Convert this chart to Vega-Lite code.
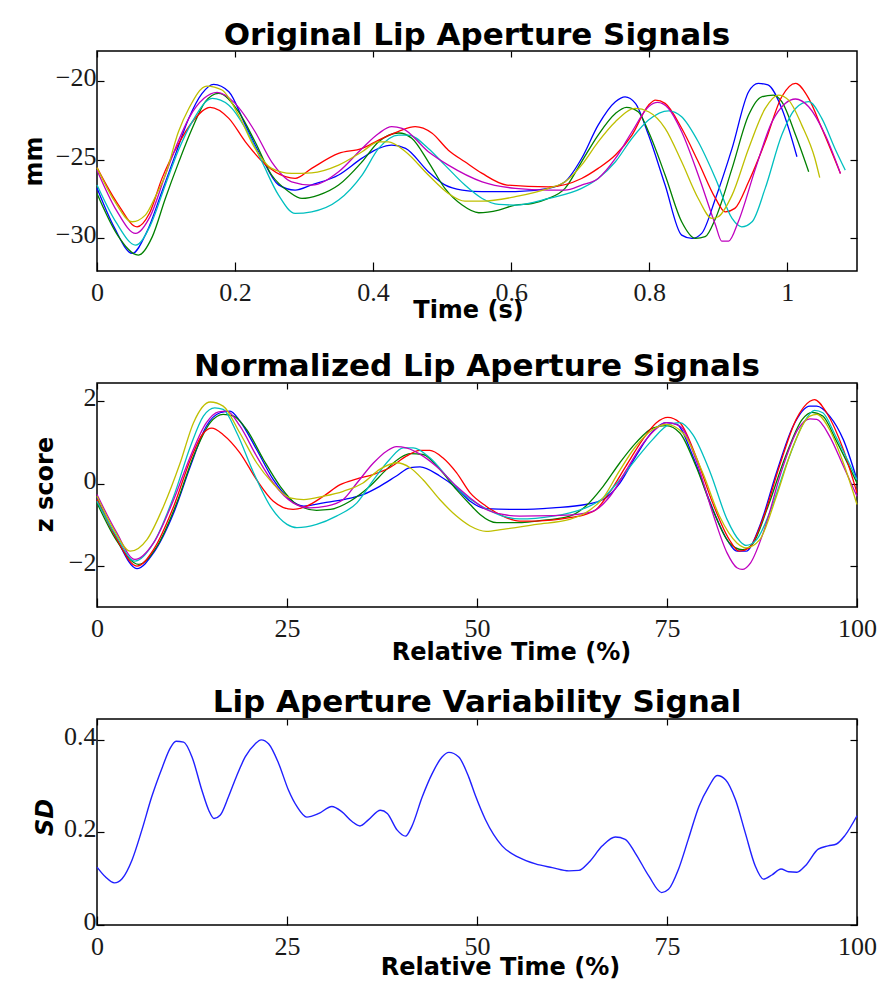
{
  "$schema": "https://vega.github.io/schema/vega-lite/v6.json",
  "padding": {"left": 21, "top": 19, "right": 0, "bottom": 0},
  "background": "white",
  "spacing": 112,
  "bounds": "flush",
  "datasets": {
    "orig": [
      {"s":"b","t":0,"v":-26.8},{"s":"b","t":0.025,"v":-29.3},{"s":"b","t":0.051,"v":-30.95},{"s":"b","t":0.072,"v":-29.6},{"s":"b","t":0.094,"v":-27.03},{"s":"b","t":0.115,"v":-24.5},{"s":"b","t":0.133,"v":-22.37},{"s":"b","t":0.152,"v":-20.8},{"s":"b","t":0.169,"v":-20.21},{"s":"b","t":0.191,"v":-20.68},{"s":"b","t":0.215,"v":-22.8},{"s":"b","t":0.239,"v":-24.9},{"s":"b","t":0.263,"v":-26.6},{"s":"b","t":0.287,"v":-26.93},{"s":"b","t":0.311,"v":-26.6},{"s":"b","t":0.35,"v":-25.97},{"s":"b","t":0.384,"v":-24.9},{"s":"b","t":0.408,"v":-24.28},{"s":"b","t":0.427,"v":-24.07},{"s":"b","t":0.447,"v":-24.28},{"s":"b","t":0.48,"v":-25.76},{"s":"b","t":0.504,"v":-26.6},{"s":"b","t":0.529,"v":-26.93},{"s":"b","t":0.558,"v":-27.03},{"s":"b","t":0.606,"v":-27.03},{"s":"b","t":0.654,"v":-26.82},{"s":"b","t":0.678,"v":-26.4},{"s":"b","t":0.702,"v":-24.92},{"s":"b","t":0.726,"v":-22.8},{"s":"b","t":0.751,"v":-21.31},{"s":"b","t":0.765,"v":-21.0},{"s":"b","t":0.78,"v":-21.42},{"s":"b","t":0.799,"v":-23.43},{"s":"b","t":0.823,"v":-26.61},{"s":"b","t":0.847,"v":-29.79},{"s":"b","t":0.862,"v":-30.0},{"s":"b","t":0.876,"v":-29.68},{"s":"b","t":0.896,"v":-27.46},{"s":"b","t":0.92,"v":-24.28},{"s":"b","t":0.944,"v":-20.68},{"s":"b","t":0.958,"v":-20.15},{"s":"b","t":0.972,"v":-20.25},{"s":"b","t":0.992,"v":-21.74},{"s":"b","t":1.014,"v":-24.81},
      {"s":"g","t":0,"v":-27.14},{"s":"g","t":0.03,"v":-29.8},{"s":"g","t":0.06,"v":-31.06},{"s":"g","t":0.08,"v":-29.9},{"s":"g","t":0.099,"v":-27.46},{"s":"g","t":0.118,"v":-25.2},{"s":"g","t":0.138,"v":-23.0},{"s":"g","t":0.157,"v":-21.31},{"s":"g","t":0.176,"v":-20.78},{"s":"g","t":0.205,"v":-21.95},{"s":"g","t":0.229,"v":-23.86},{"s":"g","t":0.253,"v":-25.97},{"s":"g","t":0.278,"v":-27.03},{"s":"g","t":0.297,"v":-27.46},{"s":"g","t":0.321,"v":-27.25},{"s":"g","t":0.35,"v":-26.61},{"s":"g","t":0.384,"v":-25.13},{"s":"g","t":0.408,"v":-23.86},{"s":"g","t":0.437,"v":-23.3},{"s":"g","t":0.456,"v":-23.64},{"s":"g","t":0.48,"v":-25.13},{"s":"g","t":0.504,"v":-26.82},{"s":"g","t":0.529,"v":-27.88},{"s":"g","t":0.553,"v":-28.37},{"s":"g","t":0.582,"v":-28.2},{"s":"g","t":0.606,"v":-27.88},{"s":"g","t":0.63,"v":-27.78},{"s":"g","t":0.654,"v":-27.46},{"s":"g","t":0.678,"v":-26.82},{"s":"g","t":0.702,"v":-25.13},{"s":"g","t":0.726,"v":-23.43},{"s":"g","t":0.751,"v":-22.06},{"s":"g","t":0.767,"v":-21.67},{"s":"g","t":0.784,"v":-21.95},{"s":"g","t":0.799,"v":-23.22},{"s":"g","t":0.823,"v":-25.97},{"s":"g","t":0.847,"v":-28.94},{"s":"g","t":0.867,"v":-30.0},{"s":"g","t":0.881,"v":-29.89},{"s":"g","t":0.896,"v":-28.73},{"s":"g","t":0.92,"v":-25.55},{"s":"g","t":0.944,"v":-22.16},{"s":"g","t":0.963,"v":-21.0},{"s":"g","t":0.98,"v":-20.89},{"s":"g","t":0.992,"v":-21.31},{"s":"g","t":1.012,"v":-23.43},{"s":"g","t":1.031,"v":-25.76},
      {"s":"r","t":0,"v":-25.5},{"s":"r","t":0.03,"v":-27.8},{"s":"r","t":0.058,"v":-29.26},{"s":"r","t":0.076,"v":-28.4},{"s":"r","t":0.094,"v":-26.2},{"s":"r","t":0.118,"v":-24.0},{"s":"r","t":0.138,"v":-22.6},{"s":"r","t":0.164,"v":-21.67},{"s":"r","t":0.191,"v":-22.37},{"s":"r","t":0.215,"v":-23.86},{"s":"r","t":0.244,"v":-25.3},{"s":"r","t":0.273,"v":-26.08},{"s":"r","t":0.287,"v":-26.19},{"s":"r","t":0.311,"v":-25.55},{"s":"r","t":0.35,"v":-24.6},{"s":"r","t":0.384,"v":-24.28},{"s":"r","t":0.408,"v":-23.75},{"s":"r","t":0.437,"v":-23.2},{"s":"r","t":0.461,"v":-22.9},{"s":"r","t":0.485,"v":-23.3},{"s":"r","t":0.509,"v":-24.39},{"s":"r","t":0.533,"v":-25.13},{"s":"r","t":0.558,"v":-25.87},{"s":"r","t":0.594,"v":-26.61},{"s":"r","t":0.654,"v":-26.72},{"s":"r","t":0.702,"v":-26.19},{"s":"r","t":0.726,"v":-25.55},{"s":"r","t":0.751,"v":-24.7},{"s":"r","t":0.775,"v":-23.43},{"s":"r","t":0.799,"v":-21.53},{"s":"r","t":0.809,"v":-21.21},{"s":"r","t":0.823,"v":-21.42},{"s":"r","t":0.847,"v":-23.0},{"s":"r","t":0.871,"v":-25.13},{"s":"r","t":0.896,"v":-27.46},{"s":"r","t":0.91,"v":-28.31},{"s":"r","t":0.924,"v":-28.09},{"s":"r","t":0.944,"v":-26.4},{"s":"r","t":0.968,"v":-23.86},{"s":"r","t":0.992,"v":-21.0},{"s":"r","t":1.012,"v":-20.15},{"s":"r","t":1.031,"v":-21.1},{"s":"r","t":1.05,"v":-23.0},{"s":"r","t":1.077,"v":-25.87},
      {"s":"c","t":0,"v":-26.6},{"s":"c","t":0.028,"v":-29.0},{"s":"c","t":0.056,"v":-30.42},{"s":"c","t":0.077,"v":-29.2},{"s":"c","t":0.099,"v":-26.6},{"s":"c","t":0.118,"v":-24.4},{"s":"c","t":0.138,"v":-22.58},{"s":"c","t":0.167,"v":-21.1},{"s":"c","t":0.191,"v":-21.53},{"s":"c","t":0.215,"v":-23.0},{"s":"c","t":0.239,"v":-25.13},{"s":"c","t":0.263,"v":-27.25},{"s":"c","t":0.287,"v":-28.41},{"s":"c","t":0.311,"v":-28.31},{"s":"c","t":0.35,"v":-27.56},{"s":"c","t":0.384,"v":-25.97},{"s":"c","t":0.408,"v":-24.28},{"s":"c","t":0.437,"v":-23.43},{"s":"c","t":0.451,"v":-23.43},{"s":"c","t":0.48,"v":-24.28},{"s":"c","t":0.504,"v":-25.34},{"s":"c","t":0.533,"v":-26.61},{"s":"c","t":0.558,"v":-27.46},{"s":"c","t":0.582,"v":-27.84},{"s":"c","t":0.606,"v":-27.88},{"s":"c","t":0.654,"v":-27.46},{"s":"c","t":0.702,"v":-26.82},{"s":"c","t":0.726,"v":-26.19},{"s":"c","t":0.751,"v":-25.13},{"s":"c","t":0.775,"v":-23.64},{"s":"c","t":0.799,"v":-22.48},{"s":"c","t":0.828,"v":-21.89},{"s":"c","t":0.847,"v":-22.27},{"s":"c","t":0.871,"v":-23.86},{"s":"c","t":0.896,"v":-26.19},{"s":"c","t":0.92,"v":-28.73},{"s":"c","t":0.934,"v":-29.26},{"s":"c","t":0.949,"v":-28.94},{"s":"c","t":0.968,"v":-26.82},{"s":"c","t":0.992,"v":-23.43},{"s":"c","t":1.012,"v":-21.74},{"s":"c","t":1.031,"v":-21.31},{"s":"c","t":1.05,"v":-22.37},{"s":"c","t":1.069,"v":-24.28},{"s":"c","t":1.084,"v":-25.66},
      {"s":"m","t":0,"v":-25.66},{"s":"m","t":0.028,"v":-28.2},{"s":"m","t":0.056,"v":-29.68},{"s":"m","t":0.077,"v":-28.6},{"s":"m","t":0.099,"v":-25.97},{"s":"m","t":0.118,"v":-23.8},{"s":"m","t":0.133,"v":-22.37},{"s":"m","t":0.155,"v":-21.1},{"s":"m","t":0.174,"v":-20.72},{"s":"m","t":0.2,"v":-21.42},{"s":"m","t":0.229,"v":-23.22},{"s":"m","t":0.253,"v":-25.13},{"s":"m","t":0.282,"v":-26.4},{"s":"m","t":0.311,"v":-26.61},{"s":"m","t":0.35,"v":-25.76},{"s":"m","t":0.384,"v":-24.28},{"s":"m","t":0.408,"v":-23.33},{"s":"m","t":0.427,"v":-22.9},{"s":"m","t":0.442,"v":-23.0},{"s":"m","t":0.48,"v":-24.49},{"s":"m","t":0.509,"v":-25.34},{"s":"m","t":0.558,"v":-26.4},{"s":"m","t":0.606,"v":-26.82},{"s":"m","t":0.654,"v":-26.93},{"s":"m","t":0.678,"v":-26.93},{"s":"m","t":0.702,"v":-26.61},{"s":"m","t":0.726,"v":-26.19},{"s":"m","t":0.751,"v":-24.92},{"s":"m","t":0.775,"v":-23.22},{"s":"m","t":0.799,"v":-21.63},{"s":"m","t":0.812,"v":-21.36},{"s":"m","t":0.828,"v":-21.74},{"s":"m","t":0.847,"v":-23.22},{"s":"m","t":0.871,"v":-25.97},{"s":"m","t":0.896,"v":-29.15},{"s":"m","t":0.905,"v":-30.17},{"s":"m","t":0.915,"v":-30.17},{"s":"m","t":0.929,"v":-28.94},{"s":"m","t":0.954,"v":-25.55},{"s":"m","t":0.978,"v":-22.58},{"s":"m","t":0.997,"v":-21.42},{"s":"m","t":1.012,"v":-21.14},{"s":"m","t":1.031,"v":-21.63},{"s":"m","t":1.055,"v":-23.43},{"s":"m","t":1.077,"v":-25.87},
      {"s":"y","t":0,"v":-25.5},{"s":"y","t":0.025,"v":-27.6},{"s":"y","t":0.051,"v":-28.94},{"s":"y","t":0.07,"v":-28.52},{"s":"y","t":0.085,"v":-27.3},{"s":"y","t":0.099,"v":-25.97},{"s":"y","t":0.118,"v":-23.22},{"s":"y","t":0.133,"v":-21.74},{"s":"y","t":0.159,"v":-20.32},{"s":"y","t":0.181,"v":-20.57},{"s":"y","t":0.205,"v":-22.16},{"s":"y","t":0.229,"v":-24.28},{"s":"y","t":0.253,"v":-25.55},{"s":"y","t":0.282,"v":-25.87},{"s":"y","t":0.311,"v":-25.83},{"s":"y","t":0.35,"v":-25.34},{"s":"y","t":0.384,"v":-24.49},{"s":"y","t":0.408,"v":-23.86},{"s":"y","t":0.422,"v":-23.86},{"s":"y","t":0.447,"v":-24.49},{"s":"y","t":0.48,"v":-25.97},{"s":"y","t":0.509,"v":-27.14},{"s":"y","t":0.533,"v":-27.63},{"s":"y","t":0.558,"v":-27.63},{"s":"y","t":0.606,"v":-27.35},{"s":"y","t":0.654,"v":-26.82},{"s":"y","t":0.678,"v":-26.4},{"s":"y","t":0.702,"v":-25.34},{"s":"y","t":0.726,"v":-23.86},{"s":"y","t":0.751,"v":-22.58},{"s":"y","t":0.78,"v":-21.74},{"s":"y","t":0.799,"v":-21.95},{"s":"y","t":0.823,"v":-23.0},{"s":"y","t":0.847,"v":-25.13},{"s":"y","t":0.871,"v":-27.46},{"s":"y","t":0.891,"v":-28.73},{"s":"y","t":0.9,"v":-28.62},{"s":"y","t":0.92,"v":-27.25},{"s":"y","t":0.944,"v":-24.28},{"s":"y","t":0.968,"v":-21.74},{"s":"y","t":0.987,"v":-20.89},{"s":"y","t":1.002,"v":-21.21},{"s":"y","t":1.021,"v":-22.8},{"s":"y","t":1.04,"v":-24.92},{"s":"y","t":1.047,"v":-26.14}
    ],
    "norm": [
      {"s":"b","t":0,"v":-0.34},{"s":"b","t":2.5,"v":-1.3},{"s":"b","t":5.25,"v":-2.05},{"s":"b","t":7.44,"v":-1.67},{"s":"b","t":10.1,"v":-0.7},{"s":"b","t":12.3,"v":0.43},{"s":"b","t":14.4,"v":1.4},{"s":"b","t":16.2,"v":1.72},{"s":"b","t":17.5,"v":1.76},{"s":"b","t":18.8,"v":1.52},{"s":"b","t":21.0,"v":0.83},{"s":"b","t":23.2,"v":0.1},{"s":"b","t":25.4,"v":-0.38},{"s":"b","t":27.2,"v":-0.54},{"s":"b","t":29.8,"v":-0.46},{"s":"b","t":32.4,"v":-0.38},{"s":"b","t":35.0,"v":-0.26},{"s":"b","t":37.2,"v":-0.06},{"s":"b","t":39.4,"v":0.19},{"s":"b","t":41.2,"v":0.39},{"s":"b","t":42.5,"v":0.41},{"s":"b","t":45.1,"v":0.19},{"s":"b","t":47.3,"v":-0.1},{"s":"b","t":49.1,"v":-0.42},{"s":"b","t":51.2,"v":-0.6},{"s":"b","t":55.6,"v":-0.62},{"s":"b","t":60.0,"v":-0.58},{"s":"b","t":64.3,"v":-0.5},{"s":"b","t":66.6,"v":-0.38},{"s":"b","t":68.8,"v":0.02},{"s":"b","t":70.9,"v":0.67},{"s":"b","t":73.1,"v":1.27},{"s":"b","t":74.9,"v":1.48},{"s":"b","t":76.3,"v":1.44},{"s":"b","t":78.4,"v":0.67},{"s":"b","t":80.7,"v":-0.46},{"s":"b","t":82.9,"v":-1.35},{"s":"b","t":84.2,"v":-1.63},{"s":"b","t":85.4,"v":-1.63},{"s":"b","t":87.2,"v":-1.02},{"s":"b","t":89.4,"v":0.27},{"s":"b","t":91.6,"v":1.4},{"s":"b","t":93.8,"v":1.88},{"s":"b","t":94.7,"v":1.88},{"s":"b","t":96.4,"v":1.64},{"s":"b","t":98.2,"v":1.07},{"s":"b","t":100,"v":0.1},
      {"s":"g","t":0,"v":-0.46},{"s":"g","t":2.5,"v":-1.35},{"s":"g","t":5.5,"v":-1.95},{"s":"g","t":7.9,"v":-1.51},{"s":"g","t":10.5,"v":-0.46},{"s":"g","t":12.7,"v":0.67},{"s":"g","t":14.9,"v":1.48},{"s":"g","t":16.6,"v":1.68},{"s":"g","t":18.0,"v":1.64},{"s":"g","t":19.7,"v":1.31},{"s":"g","t":21.9,"v":0.59},{"s":"g","t":24.1,"v":-0.06},{"s":"g","t":26.3,"v":-0.5},{"s":"g","t":28.9,"v":-0.64},{"s":"g","t":30.7,"v":-0.62},{"s":"g","t":33.3,"v":-0.42},{"s":"g","t":35.9,"v":-0.06},{"s":"g","t":38.1,"v":0.35},{"s":"g","t":39.9,"v":0.63},{"s":"g","t":41.2,"v":0.73},{"s":"g","t":42.9,"v":0.71},{"s":"g","t":45.1,"v":0.35},{"s":"g","t":47.3,"v":-0.14},{"s":"g","t":49.1,"v":-0.5},{"s":"g","t":50.4,"v":-0.74},{"s":"g","t":52.6,"v":-0.94},{"s":"g","t":55.6,"v":-0.94},{"s":"g","t":57.8,"v":-0.9},{"s":"g","t":62.2,"v":-0.78},{"s":"g","t":64.3,"v":-0.54},{"s":"g","t":66.6,"v":-0.06},{"s":"g","t":68.8,"v":0.51},{"s":"g","t":70.9,"v":0.99},{"s":"g","t":73.1,"v":1.35},{"s":"g","t":74.9,"v":1.41},{"s":"g","t":76.7,"v":1.23},{"s":"g","t":78.8,"v":0.43},{"s":"g","t":81.0,"v":-0.62},{"s":"g","t":83.2,"v":-1.43},{"s":"g","t":84.9,"v":-1.59},{"s":"g","t":86.2,"v":-1.47},{"s":"g","t":88.3,"v":-0.54},{"s":"g","t":90.6,"v":0.67},{"s":"g","t":92.8,"v":1.56},{"s":"g","t":94.1,"v":1.73},{"s":"g","t":95.5,"v":1.64},{"s":"g","t":97.2,"v":1.07},{"s":"g","t":100,"v":0.02},
      {"s":"r","t":0,"v":-0.38},{"s":"r","t":2.5,"v":-1.3},{"s":"r","t":5.25,"v":-1.99},{"s":"r","t":7.44,"v":-1.59},{"s":"r","t":10.1,"v":-0.54},{"s":"r","t":12.3,"v":0.59},{"s":"r","t":14.0,"v":1.23},{"s":"r","t":15.1,"v":1.35},{"s":"r","t":16.6,"v":1.19},{"s":"r","t":18.8,"v":0.75},{"s":"r","t":21.0,"v":0.1},{"s":"r","t":23.2,"v":-0.42},{"s":"r","t":25.8,"v":-0.62},{"s":"r","t":27.6,"v":-0.54},{"s":"r","t":29.8,"v":-0.3},{"s":"r","t":32.0,"v":-0.02},{"s":"r","t":34.2,"v":0.12},{"s":"r","t":36.4,"v":0.23},{"s":"r","t":38.5,"v":0.39},{"s":"r","t":40.7,"v":0.67},{"s":"r","t":42.5,"v":0.81},{"s":"r","t":43.8,"v":0.81},{"s":"r","t":45.5,"v":0.63},{"s":"r","t":47.3,"v":0.27},{"s":"r","t":49.1,"v":-0.22},{"s":"r","t":51.2,"v":-0.54},{"s":"r","t":53.4,"v":-0.78},{"s":"r","t":55.6,"v":-0.9},{"s":"r","t":57.8,"v":-0.9},{"s":"r","t":62.2,"v":-0.82},{"s":"r","t":64.3,"v":-0.74},{"s":"r","t":65.7,"v":-0.62},{"s":"r","t":67.4,"v":-0.22},{"s":"r","t":69.6,"v":0.43},{"s":"r","t":71.8,"v":1.07},{"s":"r","t":73.6,"v":1.48},{"s":"r","t":75.1,"v":1.61},{"s":"r","t":76.7,"v":1.48},{"s":"r","t":78.8,"v":0.67},{"s":"r","t":81.0,"v":-0.46},{"s":"r","t":83.2,"v":-1.35},{"s":"r","t":84.5,"v":-1.63},{"s":"r","t":85.8,"v":-1.55},{"s":"r","t":87.6,"v":-0.86},{"s":"r","t":89.8,"v":0.43},{"s":"r","t":92.0,"v":1.56},{"s":"r","t":93.8,"v":2.0},{"s":"r","t":94.4,"v":2.04},{"s":"r","t":96.0,"v":1.72},{"s":"r","t":98.2,"v":0.83},{"s":"r","t":100,"v":-0.22},
      {"s":"c","t":0,"v":-0.42},{"s":"c","t":2.5,"v":-1.25},{"s":"c","t":5.0,"v":-1.87},{"s":"c","t":7.44,"v":-1.43},{"s":"c","t":10.1,"v":-0.3},{"s":"c","t":12.3,"v":0.91},{"s":"c","t":14.0,"v":1.64},{"s":"c","t":15.5,"v":1.84},{"s":"c","t":16.6,"v":1.8},{"s":"c","t":18.4,"v":1.23},{"s":"c","t":20.6,"v":0.27},{"s":"c","t":22.8,"v":-0.54},{"s":"c","t":25.0,"v":-0.98},{"s":"c","t":26.3,"v":-1.06},{"s":"c","t":28.9,"v":-0.98},{"s":"c","t":31.5,"v":-0.78},{"s":"c","t":34.2,"v":-0.46},{"s":"c","t":36.4,"v":0.1},{"s":"c","t":38.5,"v":0.59},{"s":"c","t":40.3,"v":0.87},{"s":"c","t":41.6,"v":0.87},{"s":"c","t":43.8,"v":0.63},{"s":"c","t":46.4,"v":0.1},{"s":"c","t":48.6,"v":-0.3},{"s":"c","t":50.4,"v":-0.52},{"s":"c","t":53.4,"v":-0.78},{"s":"c","t":55.6,"v":-0.85},{"s":"c","t":60.0,"v":-0.78},{"s":"c","t":62.2,"v":-0.7},{"s":"c","t":64.3,"v":-0.58},{"s":"c","t":66.6,"v":-0.34},{"s":"c","t":68.8,"v":0.1},{"s":"c","t":70.9,"v":0.59},{"s":"c","t":73.1,"v":1.07},{"s":"c","t":75.3,"v":1.44},{"s":"c","t":76.7,"v":1.48},{"s":"c","t":78.4,"v":1.19},{"s":"c","t":80.7,"v":0.27},{"s":"c","t":82.9,"v":-0.86},{"s":"c","t":84.6,"v":-1.39},{"s":"c","t":85.4,"v":-1.49},{"s":"c","t":86.8,"v":-1.35},{"s":"c","t":88.5,"v":-0.7},{"s":"c","t":90.8,"v":0.51},{"s":"c","t":93.0,"v":1.48},{"s":"c","t":94.4,"v":1.78},{"s":"c","t":95.5,"v":1.72},{"s":"c","t":97.2,"v":1.15},{"s":"c","t":100,"v":0.1},
      {"s":"m","t":0,"v":-0.26},{"s":"m","t":2.5,"v":-1.15},{"s":"m","t":5.0,"v":-1.83},{"s":"m","t":7.44,"v":-1.43},{"s":"m","t":10.1,"v":-0.38},{"s":"m","t":12.3,"v":0.67},{"s":"m","t":14.4,"v":1.48},{"s":"m","t":16.0,"v":1.74},{"s":"m","t":17.1,"v":1.76},{"s":"m","t":18.8,"v":1.4},{"s":"m","t":21.0,"v":0.67},{"s":"m","t":23.2,"v":0.02},{"s":"m","t":25.8,"v":-0.46},{"s":"m","t":28.0,"v":-0.58},{"s":"m","t":30.2,"v":-0.54},{"s":"m","t":32.4,"v":-0.38},{"s":"m","t":34.2,"v":0.02},{"s":"m","t":36.4,"v":0.51},{"s":"m","t":38.1,"v":0.79},{"s":"m","t":39.4,"v":0.9},{"s":"m","t":40.7,"v":0.87},{"s":"m","t":42.9,"v":0.67},{"s":"m","t":45.1,"v":0.35},{"s":"m","t":47.3,"v":-0.06},{"s":"m","t":49.1,"v":-0.34},{"s":"m","t":51.2,"v":-0.62},{"s":"m","t":53.4,"v":-0.74},{"s":"m","t":55.6,"v":-0.78},{"s":"m","t":60.0,"v":-0.77},{"s":"m","t":63.1,"v":-0.74},{"s":"m","t":65.3,"v":-0.66},{"s":"m","t":67.5,"v":-0.3},{"s":"m","t":69.7,"v":0.35},{"s":"m","t":71.9,"v":0.99},{"s":"m","t":73.7,"v":1.35},{"s":"m","t":74.9,"v":1.48},{"s":"m","t":76.7,"v":1.4},{"s":"m","t":78.8,"v":0.59},{"s":"m","t":81.0,"v":-0.7},{"s":"m","t":82.9,"v":-1.67},{"s":"m","t":84.2,"v":-2.03},{"s":"m","t":84.9,"v":-2.07},{"s":"m","t":86.0,"v":-1.91},{"s":"m","t":87.8,"v":-1.11},{"s":"m","t":90.0,"v":0.27},{"s":"m","t":92.2,"v":1.31},{"s":"m","t":93.8,"v":1.57},{"s":"m","t":94.7,"v":1.56},{"s":"m","t":96.4,"v":1.15},{"s":"m","t":98.2,"v":0.43},{"s":"m","t":100,"v":-0.3},
      {"s":"y","t":0,"v":-0.3},{"s":"y","t":2.2,"v":-1.1},{"s":"y","t":4.38,"v":-1.63},{"s":"y","t":6.57,"v":-1.35},{"s":"y","t":8.76,"v":-0.54},{"s":"y","t":10.95,"v":0.51},{"s":"y","t":12.7,"v":1.48},{"s":"y","t":14.9,"v":1.98},{"s":"y","t":16.6,"v":1.88},{"s":"y","t":18.8,"v":1.23},{"s":"y","t":21.0,"v":0.51},{"s":"y","t":23.1,"v":0.02},{"s":"y","t":25.4,"v":-0.34},{"s":"y","t":27.2,"v":-0.38},{"s":"y","t":29.8,"v":-0.3},{"s":"y","t":32.4,"v":-0.18},{"s":"y","t":35.0,"v":0.02},{"s":"y","t":37.2,"v":0.35},{"s":"y","t":39.4,"v":0.51},{"s":"y","t":41.2,"v":0.39},{"s":"y","t":42.9,"v":0.1},{"s":"y","t":45.1,"v":-0.38},{"s":"y","t":47.3,"v":-0.78},{"s":"y","t":49.1,"v":-1.02},{"s":"y","t":51.2,"v":-1.15},{"s":"y","t":53.4,"v":-1.1},{"s":"y","t":57.8,"v":-0.98},{"s":"y","t":62.2,"v":-0.86},{"s":"y","t":64.3,"v":-0.7},{"s":"y","t":66.6,"v":-0.34},{"s":"y","t":68.6,"v":0.27},{"s":"y","t":70.9,"v":0.91},{"s":"y","t":73.1,"v":1.31},{"s":"y","t":74.9,"v":1.44},{"s":"y","t":77.1,"v":1.23},{"s":"y","t":79.7,"v":0.27},{"s":"y","t":81.9,"v":-0.78},{"s":"y","t":84.2,"v":-1.43},{"s":"y","t":85.4,"v":-1.55},{"s":"y","t":87.2,"v":-1.35},{"s":"y","t":89.4,"v":-0.3},{"s":"y","t":91.6,"v":0.91},{"s":"y","t":93.8,"v":1.64},{"s":"y","t":94.7,"v":1.68},{"s":"y","t":96.4,"v":1.31},{"s":"y","t":98.2,"v":0.51},{"s":"y","t":100,"v":-0.5}
    ],
    "sd": [
      {"t":0,"v":0.125},{"t":1.1,"v":0.104},{"t":2.3,"v":0.091},{"t":3.3,"v":0.1},{"t":4.6,"v":0.14},{"t":5.9,"v":0.205},{"t":7.2,"v":0.277},{"t":8.6,"v":0.341},{"t":9.6,"v":0.381},{"t":10.4,"v":0.397},{"t":11.4,"v":0.395},{"t":12.5,"v":0.363},{"t":13.8,"v":0.291},{"t":14.7,"v":0.248},{"t":15.4,"v":0.23},{"t":16.2,"v":0.237},{"t":17.3,"v":0.277},{"t":18.4,"v":0.323},{"t":19.5,"v":0.363},{"t":20.8,"v":0.391},{"t":21.6,"v":0.4},{"t":22.6,"v":0.391},{"t":23.9,"v":0.349},{"t":25.2,"v":0.291},{"t":26.3,"v":0.256},{"t":27.6,"v":0.233},{"t":29.2,"v":0.241},{"t":30.9,"v":0.256},{"t":32.2,"v":0.245},{"t":33.6,"v":0.223},{"t":34.6,"v":0.214},{"t":35.7,"v":0.227},{"t":37.3,"v":0.248},{"t":38.2,"v":0.241},{"t":39.5,"v":0.205},{"t":40.6,"v":0.192},{"t":41.4,"v":0.212},{"t":42.8,"v":0.277},{"t":44.1,"v":0.327},{"t":45.4,"v":0.363},{"t":46.3,"v":0.373},{"t":47.6,"v":0.363},{"t":48.9,"v":0.32},{"t":49.8,"v":0.279},{"t":51.1,"v":0.228},{"t":53.3,"v":0.171},{"t":55.5,"v":0.146},{"t":57.7,"v":0.132},{"t":59.9,"v":0.124},{"t":62.1,"v":0.117},{"t":63.4,"v":0.118},{"t":64.7,"v":0.135},{"t":66.5,"v":0.171},{"t":68.2,"v":0.19},{"t":69.5,"v":0.185},{"t":70.8,"v":0.156},{"t":72.6,"v":0.106},{"t":74.3,"v":0.07},{"t":75.2,"v":0.077},{"t":76.5,"v":0.12},{"t":77.8,"v":0.185},{"t":79.2,"v":0.256},{"t":80.5,"v":0.299},{"t":81.6,"v":0.323},{"t":82.7,"v":0.314},{"t":84.0,"v":0.271},{"t":85.3,"v":0.199},{"t":86.6,"v":0.128},{"t":87.7,"v":0.099},{"t":88.8,"v":0.108},{"t":90.0,"v":0.121},{"t":91.0,"v":0.115},{"t":92.1,"v":0.114},{"t":93.2,"v":0.128},{"t":94.9,"v":0.164},{"t":96.2,"v":0.171},{"t":97.3,"v":0.175},{"t":98.4,"v":0.193},{"t":100,"v":0.236}
    ]
  },
  "vconcat": [
    {
      "width": 760, "height": 220,
      "title": {"text": "Original Lip Aperture Signals", "offset": -2},
      "data": {"name": "orig"},
      "layer": [
        {
          "mark": {"type": "line", "interpolate": "monotone", "strokeWidth": 1.3},
          "encoding": {
            "x": {"field": "t", "type": "quantitative", "scale": {"domain": [0, 1.101], "nice": false, "zero": false},
                  "axis": {"orient": "bottom", "values": [0, 0.2, 0.4, 0.6, 0.8, 1], "format": ".1~f", "ticks": false, "labelPadding": 29, "labelBaseline": "alphabetic", "title": "Time (s)", "titleY": 46, "titleX": 371, "titleBaseline": "alphabetic", "titleAlign": "center"}},
            "y": {"field": "v", "type": "quantitative", "scale": {"domain": [-32.07, -18.09], "nice": false, "zero": false},
                  "axis": {"orient": "left", "values": [-30, -25, -20], "format": "d", "ticks": false, "labelPadding": 1, "labelBaseline": "alphabetic", "labelOffset": 4.5, "title": "mm", "titleX": -56, "titleBaseline": "alphabetic", "titleAngle": 270}},
            "color": {"field": "s", "type": "nominal", "scale": {"domain": ["b", "g", "r", "c", "m", "y"], "range": ["#0000ff", "#008000", "#ff0000", "#00bfbf", "#bf00bf", "#bfbf00"]}, "legend": null}
          }
        },
        {
          "mark": {"type": "line", "opacity": 0},
          "encoding": {
            "x": {"field": "t", "type": "quantitative", "axis": {"orient": "bottom", "values": [0, 0.2, 0.4, 0.6, 0.8, 1], "labels": false, "tickSize": 9, "offset": -9, "title": null}},
            "y": {"field": "v", "type": "quantitative", "axis": {"orient": "left", "values": [-30, -25, -20], "labels": false, "tickSize": 7, "offset": -7, "title": null}}
          }
        },
        {
          "mark": {"type": "line", "opacity": 0},
          "encoding": {
            "x": {"field": "t", "type": "quantitative", "axis": {"orient": "top", "values": [0, 0.2, 0.4, 0.6, 0.8, 1], "labels": false, "tickSize": 6, "offset": -6, "title": null}},
            "y": {"field": "v", "type": "quantitative", "axis": {"orient": "right", "values": [-30, -25, -20], "labels": false, "tickSize": 7, "offset": -7, "title": null}}
          }
        }
      ],
      "resolve": {"axis": {"x": "independent", "y": "independent"}}
    },
    {
      "width": 760, "height": 224,
      "title": {"text": "Normalized Lip Aperture Signals", "offset": -1},
      "data": {"name": "norm"},
      "layer": [
        {
          "mark": {"type": "line", "interpolate": "monotone", "strokeWidth": 1.3},
          "encoding": {
            "x": {"field": "t", "type": "quantitative", "scale": {"domain": [0, 100], "nice": false, "zero": false},
                  "axis": {"orient": "bottom", "values": [0, 25, 50, 75, 100], "format": "d", "ticks": false, "labelPadding": 29, "labelBaseline": "alphabetic", "title": "Relative Time (%)", "titleY": 52, "titleX": 414, "titleBaseline": "alphabetic", "titleAlign": "center"}},
            "y": {"field": "v", "type": "quantitative", "scale": {"domain": [-2.98, 2.44], "nice": false, "zero": false},
                  "axis": {"orient": "left", "values": [-2, 0, 2], "format": "d", "ticks": false, "labelPadding": 1, "labelBaseline": "alphabetic", "labelOffset": 4.5, "title": "z  score", "titleX": -45, "titleY": 101, "titleBaseline": "alphabetic", "titleAngle": 270}},
            "color": {"field": "s", "type": "nominal", "scale": {"domain": ["b", "g", "r", "c", "m", "y"], "range": ["#0000ff", "#008000", "#ff0000", "#00bfbf", "#bf00bf", "#bfbf00"]}, "legend": null}
          }
        },
        {
          "mark": {"type": "line", "opacity": 0},
          "encoding": {
            "x": {"field": "t", "type": "quantitative", "axis": {"orient": "bottom", "values": [0, 25, 50, 75, 100], "labels": false, "tickSize": 9, "offset": -9, "title": null}},
            "y": {"field": "v", "type": "quantitative", "axis": {"orient": "left", "values": [-2, 0, 2], "labels": false, "tickSize": 7, "offset": -7, "title": null}}
          }
        },
        {
          "mark": {"type": "line", "opacity": 0},
          "encoding": {
            "x": {"field": "t", "type": "quantitative", "axis": {"orient": "top", "values": [0, 25, 50, 75, 100], "labels": false, "tickSize": 6, "offset": -6, "title": null}},
            "y": {"field": "v", "type": "quantitative", "axis": {"orient": "right", "values": [-2, 0, 2], "labels": false, "tickSize": 7, "offset": -7, "title": null}}
          }
        }
      ],
      "resolve": {"axis": {"x": "independent", "y": "independent"}}
    },
    {
      "width": 760, "height": 206,
      "title": {"text": "Lip Aperture Variability Signal", "offset": -1},
      "data": {"name": "sd"},
      "layer": [
        {
          "mark": {"type": "line", "interpolate": "monotone", "strokeWidth": 1.4, "color": "#2020ff"},
          "encoding": {
            "x": {"field": "t", "type": "quantitative", "scale": {"domain": [0, 100], "nice": false, "zero": false},
                  "axis": {"orient": "bottom", "values": [0, 25, 50, 75, 100], "format": "d", "ticks": false, "labelPadding": 29, "labelBaseline": "alphabetic", "title": "Relative Time (%)", "titleY": 49, "titleX": 403, "titleBaseline": "alphabetic", "titleAlign": "center"}},
            "y": {"field": "v", "type": "quantitative", "scale": {"domain": [0, 0.445], "nice": false, "zero": false},
                  "axis": {"orient": "left", "values": [0, 0.2, 0.4], "format": ".1~f", "ticks": false, "labelPadding": 1, "labelBaseline": "alphabetic", "labelOffset": 4.5, "title": "SD", "titleFontStyle": "italic", "titleX": -45, "titleY": 98, "titleBaseline": "alphabetic", "titleAngle": 270}}
          }
        },
        {
          "mark": {"type": "line", "opacity": 0},
          "encoding": {
            "x": {"field": "t", "type": "quantitative", "axis": {"orient": "bottom", "values": [0, 25, 50, 75, 100], "labels": false, "tickSize": 9, "offset": -9, "title": null}},
            "y": {"field": "v", "type": "quantitative", "axis": {"orient": "left", "values": [0, 0.2, 0.4], "labels": false, "tickSize": 7, "offset": -7, "title": null}}
          }
        },
        {
          "mark": {"type": "line", "opacity": 0},
          "encoding": {
            "x": {"field": "t", "type": "quantitative", "axis": {"orient": "top", "values": [0, 25, 50, 75, 100], "labels": false, "tickSize": 6, "offset": -6, "title": null}},
            "y": {"field": "v", "type": "quantitative", "axis": {"orient": "right", "values": [0, 0.2, 0.4], "labels": false, "tickSize": 7, "offset": -7, "title": null}}
          }
        }
      ],
      "resolve": {"axis": {"x": "independent", "y": "independent"}}
    }
  ],
  "config": {
    "view": {"stroke": "#000000", "strokeWidth": 1.5},
    "axis": {
      "grid": false, "domain": false, "labelFlush": false, "labelOverlap": false,
      "labelFont": "Liberation Serif", "labelFontSize": 26, "labelColor": "#1a1a1a",
      "titleFont": "DejaVu Sans", "titleFontWeight": "bold", "titleFontSize": 24, "titleColor": "#000000",
      "tickColor": "#000000", "tickWidth": 1.2
    },
    "title": {"font": "DejaVu Sans", "fontSize": 31, "fontWeight": "bold", "color": "#000000", "anchor": "middle", "baseline": "alphabetic"}
  }
}
